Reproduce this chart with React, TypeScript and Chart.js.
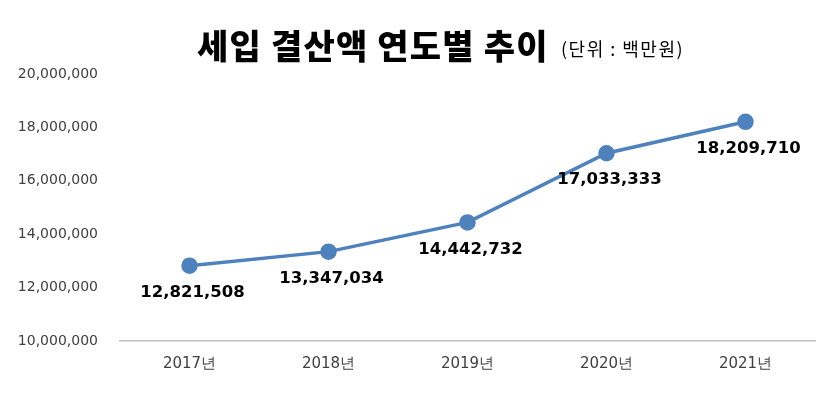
import React, { useEffect, useRef } from "react";
import { Chart, registerables } from "chart.js";

Chart.register(...registerables);

const categories = ["2017년", "2018년", "2019년", "2020년", "2021년"];
const values = [12821508, 13347034, 14442732, 17033333, 18209710];
const yMin = 10000000;
const yMax = 20000000;
const yStep = 2000000;
const titleMain = "세입 결산액 연도별 추이";
const titleUnit = "(단위 : 백만원)";

const fmt = (v: number) => v.toLocaleString("en-US");

const titlePlugin = {
  id: "customTitle",
  afterDraw(chart: any) {
    const ctx = chart.ctx;
    ctx.save();
    ctx.fillStyle = "#000";
    ctx.textBaseline = "alphabetic";
    ctx.textAlign = "left";
    ctx.font = "900 34px 'Noto Sans CJK KR'";
    (ctx as any).letterSpacing = "1.2px";
    ctx.fillText(titleMain, 197, 59);
    ctx.font = "18px 'Noto Sans CJK KR'";
    (ctx as any).letterSpacing = "1.5px";
    ctx.fillText(titleUnit, 561, 56);
    ctx.restore();
  },
};

const labelPlugin = {
  id: "pointLabels",
  afterDatasetsDraw(chart: any) {
    const ctx = chart.ctx;
    const meta = chart.getDatasetMeta(0);
    ctx.save();
    ctx.font = "bold 16.5px 'DejaVu Sans'";
    ctx.fillStyle = "#000";
    ctx.textAlign = "center";
    ctx.textBaseline = "middle";
    meta.data.forEach((pt: any, i: number) => {
      ctx.fillText(fmt(values[i]), pt.x + 3, pt.y + 27);
    });
    ctx.restore();
  },
};

export default function App() {
  const ref = useRef<HTMLCanvasElement>(null);
  useEffect(() => {
    document.body.style.margin = "0";
    const chart = new Chart(ref.current!, {
      type: "line",
      data: {
        labels: categories,
        datasets: [
          {
            data: values,
            borderColor: "#4f81bd",
            backgroundColor: "#4f81bd",
            borderWidth: 3.5,
            pointRadius: 6.5,
            pointBackgroundColor: "#4f81bd",
            pointBorderColor: "#4f81bd",
            tension: 0,
          },
        ],
      },
      options: {
        animation: false,
        responsive: false,
        layout: { padding: { top: 74, right: 25, left: 0, bottom: 0 } },
        plugins: { legend: { display: false }, tooltip: { enabled: false }, title: { display: false } },
        scales: {
          x: {
            offset: true,
            grid: { display: false },
            border: { display: true, color: "#bfbfbf", width: 1.5 },
            ticks: { color: "#404040", font: { family: "'DejaVu Sans'", size: 15 }, padding: 6, maxRotation: 0 },
            afterFit(scale: any) {
              scale.height = 58;
            },
          },
          y: {
            min: yMin,
            max: yMax,
            grid: { display: false, drawTicks: false },
            border: { display: false },
            ticks: {
              stepSize: yStep,
              color: "#404040",
              padding: 22,
              font: { family: "'DejaVu Sans'", size: 14 },
              callback: (v: any) => fmt(Number(v)),
            },
            afterFit(scale: any) {
              scale.width = 120;
            },
          },
        },
      },
      plugins: [titlePlugin, labelPlugin],
    });
    return () => chart.destroy();
  }, []);
  return (
    <div style={{ position: "fixed", left: 0, top: 0, width: 840, height: 399, background: "#fff" }}>
      <canvas ref={ref} width={840} height={399} />
    </div>
  );
}
